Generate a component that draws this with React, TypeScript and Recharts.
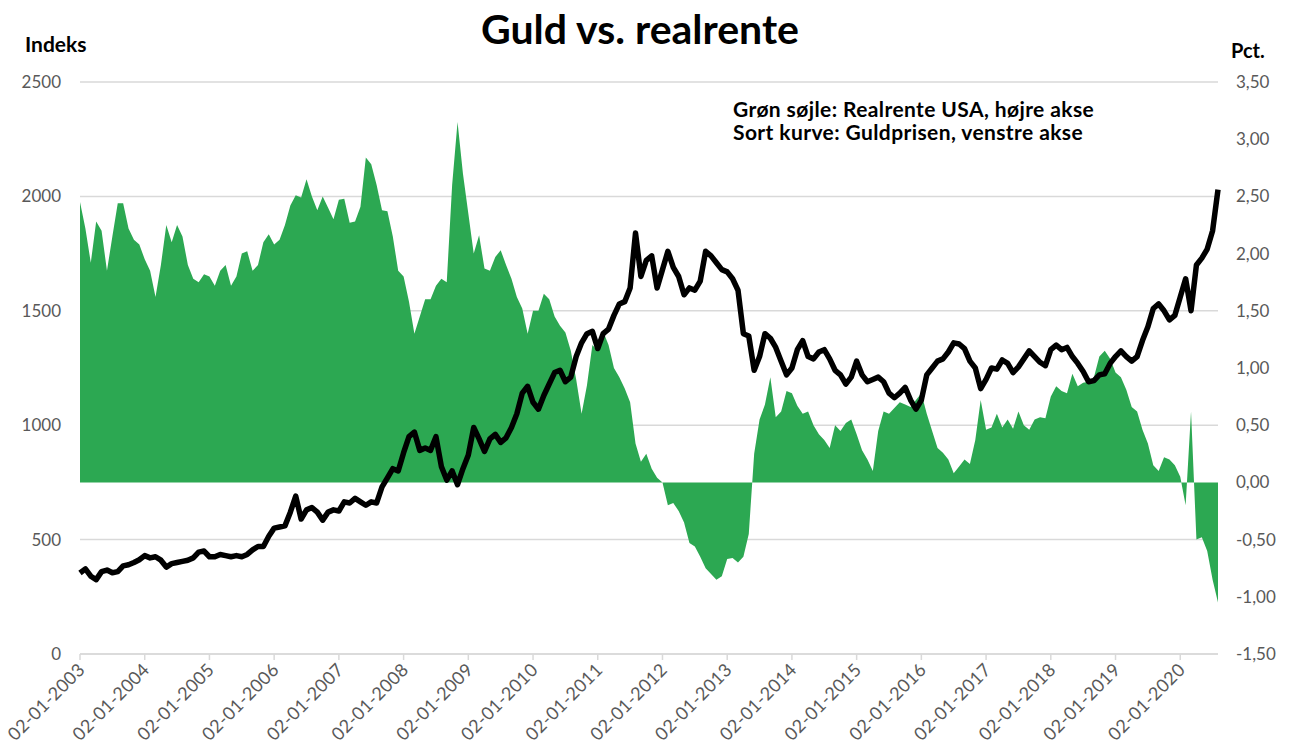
import { ComposedChart, Area, Line, XAxis, YAxis, CartesianGrid } from "recharts"

// Monthly observations, Jan 2003 - Aug 2020
const goldPrice = [
  354, 372, 340, 325, 360, 367, 355, 360, 385, 390, 400, 412, // 2003
  430, 420, 425, 410, 380, 395, 400, 405, 410, 420, 445, 450, // 2004
  425, 425, 435, 430, 425, 430, 425, 435, 455, 470, 470, 515, // 2005
  550, 555, 560, 620, 690, 590, 630, 640, 620, 585, 620, 630, // 2006
  625, 665, 660, 680, 665, 650, 665, 660, 730, 770, 810, 800, // 2007
  880, 950, 970, 890, 900, 890, 950, 820, 760, 800, 740, 810, // 2008
  870, 990, 940, 885, 940, 960, 925, 945, 990, 1050, 1140, 1170, // 2009
  1100, 1070, 1130, 1180, 1230, 1240, 1190, 1210, 1300, 1360, 1400, 1410, // 2010
  1335, 1400, 1420, 1480, 1530, 1540, 1600, 1840, 1650, 1720, 1740, 1600, // 2011
  1680, 1760, 1690, 1650, 1570, 1600, 1590, 1630, 1760, 1740, 1710, 1680, // 2012
  1670, 1640, 1590, 1400, 1390, 1240, 1300, 1400, 1380, 1340, 1280, 1220, // 2013
  1250, 1330, 1370, 1300, 1290, 1320, 1330, 1290, 1240, 1220, 1180, 1210, // 2014
  1280, 1220, 1190, 1200, 1210, 1190, 1140, 1120, 1140, 1165, 1110, 1070, // 2015
  1110, 1220, 1250, 1280, 1290, 1320, 1360, 1355, 1335, 1280, 1250, 1160, // 2016
  1200, 1250, 1245, 1285, 1270, 1230, 1255, 1290, 1325, 1300, 1275, 1260, // 2017
  1330, 1350, 1330, 1340, 1300, 1270, 1235, 1190, 1195, 1220, 1225, 1270, // 2018
  1300, 1325, 1300, 1280, 1300, 1370, 1430, 1510, 1530, 1500, 1460, 1480, // 2019
  1560, 1640, 1500, 1700, 1730, 1770, 1850, 2030, // 2020
]

const realRate = [
  2.45, 2.22, 1.92, 2.28, 2.2, 1.85, 2.15, 2.44, 2.44, 2.22, 2.12, 2.08, // 2003
  1.95, 1.85, 1.62, 1.9, 2.25, 2.1, 2.25, 2.15, 1.9, 1.78, 1.75, 1.82, // 2004
  1.8, 1.72, 1.85, 1.9, 1.72, 1.8, 2.0, 2.02, 1.85, 1.9, 2.1, 2.17, // 2005
  2.08, 2.12, 2.25, 2.42, 2.51, 2.49, 2.65, 2.5, 2.38, 2.5, 2.4, 2.3, // 2006
  2.47, 2.48, 2.27, 2.28, 2.41, 2.84, 2.78, 2.6, 2.38, 2.37, 2.15, 1.85, // 2007
  1.8, 1.58, 1.3, 1.45, 1.6, 1.6, 1.72, 1.78, 1.75, 2.6, 3.15, 2.7, // 2008
  2.35, 2.0, 2.16, 1.87, 1.85, 1.97, 2.03, 1.9, 1.78, 1.62, 1.52, 1.3, // 2009
  1.5, 1.5, 1.65, 1.6, 1.45, 1.37, 1.31, 1.15, 0.9, 0.6, 0.85, 1.2, // 2010
  1.15, 1.32, 1.2, 1.0, 0.92, 0.82, 0.7, 0.34, 0.18, 0.25, 0.12, 0.04, // 2011
  0.0, -0.2, -0.18, -0.25, -0.35, -0.53, -0.56, -0.65, -0.75, -0.8, -0.85, -0.82, // 2012
  -0.67, -0.66, -0.7, -0.65, -0.45, 0.25, 0.55, 0.68, 0.92, 0.57, 0.62, 0.8, // 2013
  0.78, 0.67, 0.6, 0.62, 0.5, 0.42, 0.37, 0.3, 0.5, 0.45, 0.52, 0.55, // 2014
  0.42, 0.28, 0.2, 0.1, 0.45, 0.62, 0.6, 0.65, 0.7, 0.68, 0.66, 0.72, // 2015
  0.78, 0.6, 0.45, 0.3, 0.26, 0.2, 0.08, 0.14, 0.2, 0.16, 0.37, 0.72, // 2016
  0.46, 0.48, 0.6, 0.48, 0.55, 0.47, 0.62, 0.5, 0.46, 0.55, 0.57, 0.56, // 2017
  0.75, 0.84, 0.8, 0.78, 0.95, 0.84, 0.87, 0.88, 0.92, 1.1, 1.15, 1.08, // 2018
  0.96, 0.92, 0.81, 0.66, 0.62, 0.46, 0.34, 0.15, 0.1, 0.22, 0.2, 0.15, // 2019
  0.05, -0.2, 0.62, -0.5, -0.48, -0.6, -0.85, -1.05, // 2020
]

const xTickLabels = [
  "02-01-2003", "02-01-2004", "02-01-2005", "02-01-2006", "02-01-2007", "02-01-2008",
  "02-01-2009", "02-01-2010", "02-01-2011", "02-01-2012", "02-01-2013", "02-01-2014",
  "02-01-2015", "02-01-2016", "02-01-2017", "02-01-2018", "02-01-2019", "02-01-2020",
]
const leftTicks = [0, 500, 1000, 1500, 2000, 2500]
const rightTicks = [-1.5, -1, -0.5, 0, 0.5, 1, 1.5, 2, 2.5, 3, 3.5]

const data = goldPrice.map((gold, i) => ({ m: i, gold, rate: realRate[i] }))
const yearTicks = xTickLabels.map((_, i) => i * 12)

const FONT = "Lato, 'Open Sans', sans-serif"
const TICK_COLOR = "#595959"

const XTick = ({ x, y, payload }: any) => {
  const label = xTickLabels[Math.round(payload.value / 12)]
  const tx = x + 6
  const ty = y + 9
  return (
    <text
      x={tx}
      y={ty}
      transform={`rotate(-45, ${tx}, ${ty})`}
      textAnchor="end"
      fill={TICK_COLOR}
      fontSize={18}
      letterSpacing={0.3}
      fontFamily={FONT}
    >
      {label}
    </text>
  )
}

export default function App() {
  return (
    <div style={{ position: "absolute", left: 0, top: 0, width: 1295, height: 747, background: "#fff", fontFamily: FONT }}>
      <ComposedChart width={1295} height={747} data={data} margin={{ top: 82, right: 0, bottom: 0, left: 0 }}>
        <CartesianGrid yAxisId="left" vertical={false} stroke="#d9d9d9" strokeWidth={1.5} />
        <XAxis
          dataKey="m"
          type="number"
          domain={[0, 211]}
          ticks={yearTicks}
          interval={0}
          height={93}
          axisLine={{ stroke: "#d9d9d9", strokeWidth: 1.5 }}
          tickLine={{ stroke: "#d9d9d9", strokeWidth: 1.5 }}
          tickSize={6}
          tickMargin={2}
          tick={<XTick />}
        />
        <YAxis
          yAxisId="left"
          domain={[0, 2500]}
          ticks={leftTicks}
          width={80}
          axisLine={false}
          tickLine={false}
          tickSize={0}
          tickMargin={19}
          tick={{ fill: TICK_COLOR, fontSize: 17, fontFamily: FONT }}
        />
        <YAxis
          yAxisId="right"
          orientation="right"
          domain={[-1.5, 3.5]}
          ticks={rightTicks}
          width={77}
          axisLine={false}
          tickLine={false}
          tickSize={0}
          tickMargin={18}
          tickFormatter={(v: number) => v.toFixed(2).replace(".", ",")}
          tick={{ fill: TICK_COLOR, fontSize: 17, fontFamily: FONT }}
        />
        <Area
          yAxisId="right"
          dataKey="rate"
          type="linear"
          baseValue={0}
          fill="#2CA852"
          fillOpacity={1}
          stroke="none"
          isAnimationActive={false}
        />
        <Line
          yAxisId="left"
          dataKey="gold"
          type="linear"
          stroke="#000"
          strokeWidth={5.5}
          strokeLinejoin="round"
          dot={false}
          isAnimationActive={false}
        />
      </ComposedChart>

      <svg width={1295} height={747} style={{ position: "absolute", left: 0, top: 0, pointerEvents: "none" }}>
        <text x={640} y={44} textAnchor="middle" fontSize={41} fontWeight="bold" fontFamily={FONT} fill="#000">
          Guld vs. realrente
        </text>
        <text x={25} y={52} fontSize={21} fontWeight="bold" fontFamily={FONT} fill="#000">
          Indeks
        </text>
        <text x={1231} y={58} fontSize={20} fontWeight="bold" fontFamily={FONT} fill="#000">
          Pct.
        </text>
        <text x={733} y={117} fontSize={21} letterSpacing={0.4} fontWeight="bold" fontFamily={FONT} fill="#000">
          Grøn søjle: Realrente USA, højre akse
        </text>
        <text x={733} y={140} fontSize={21} letterSpacing={0.4} fontWeight="bold" fontFamily={FONT} fill="#000">
          Sort kurve: Guldprisen, venstre akse
        </text>
      </svg>
    </div>
  )
}
